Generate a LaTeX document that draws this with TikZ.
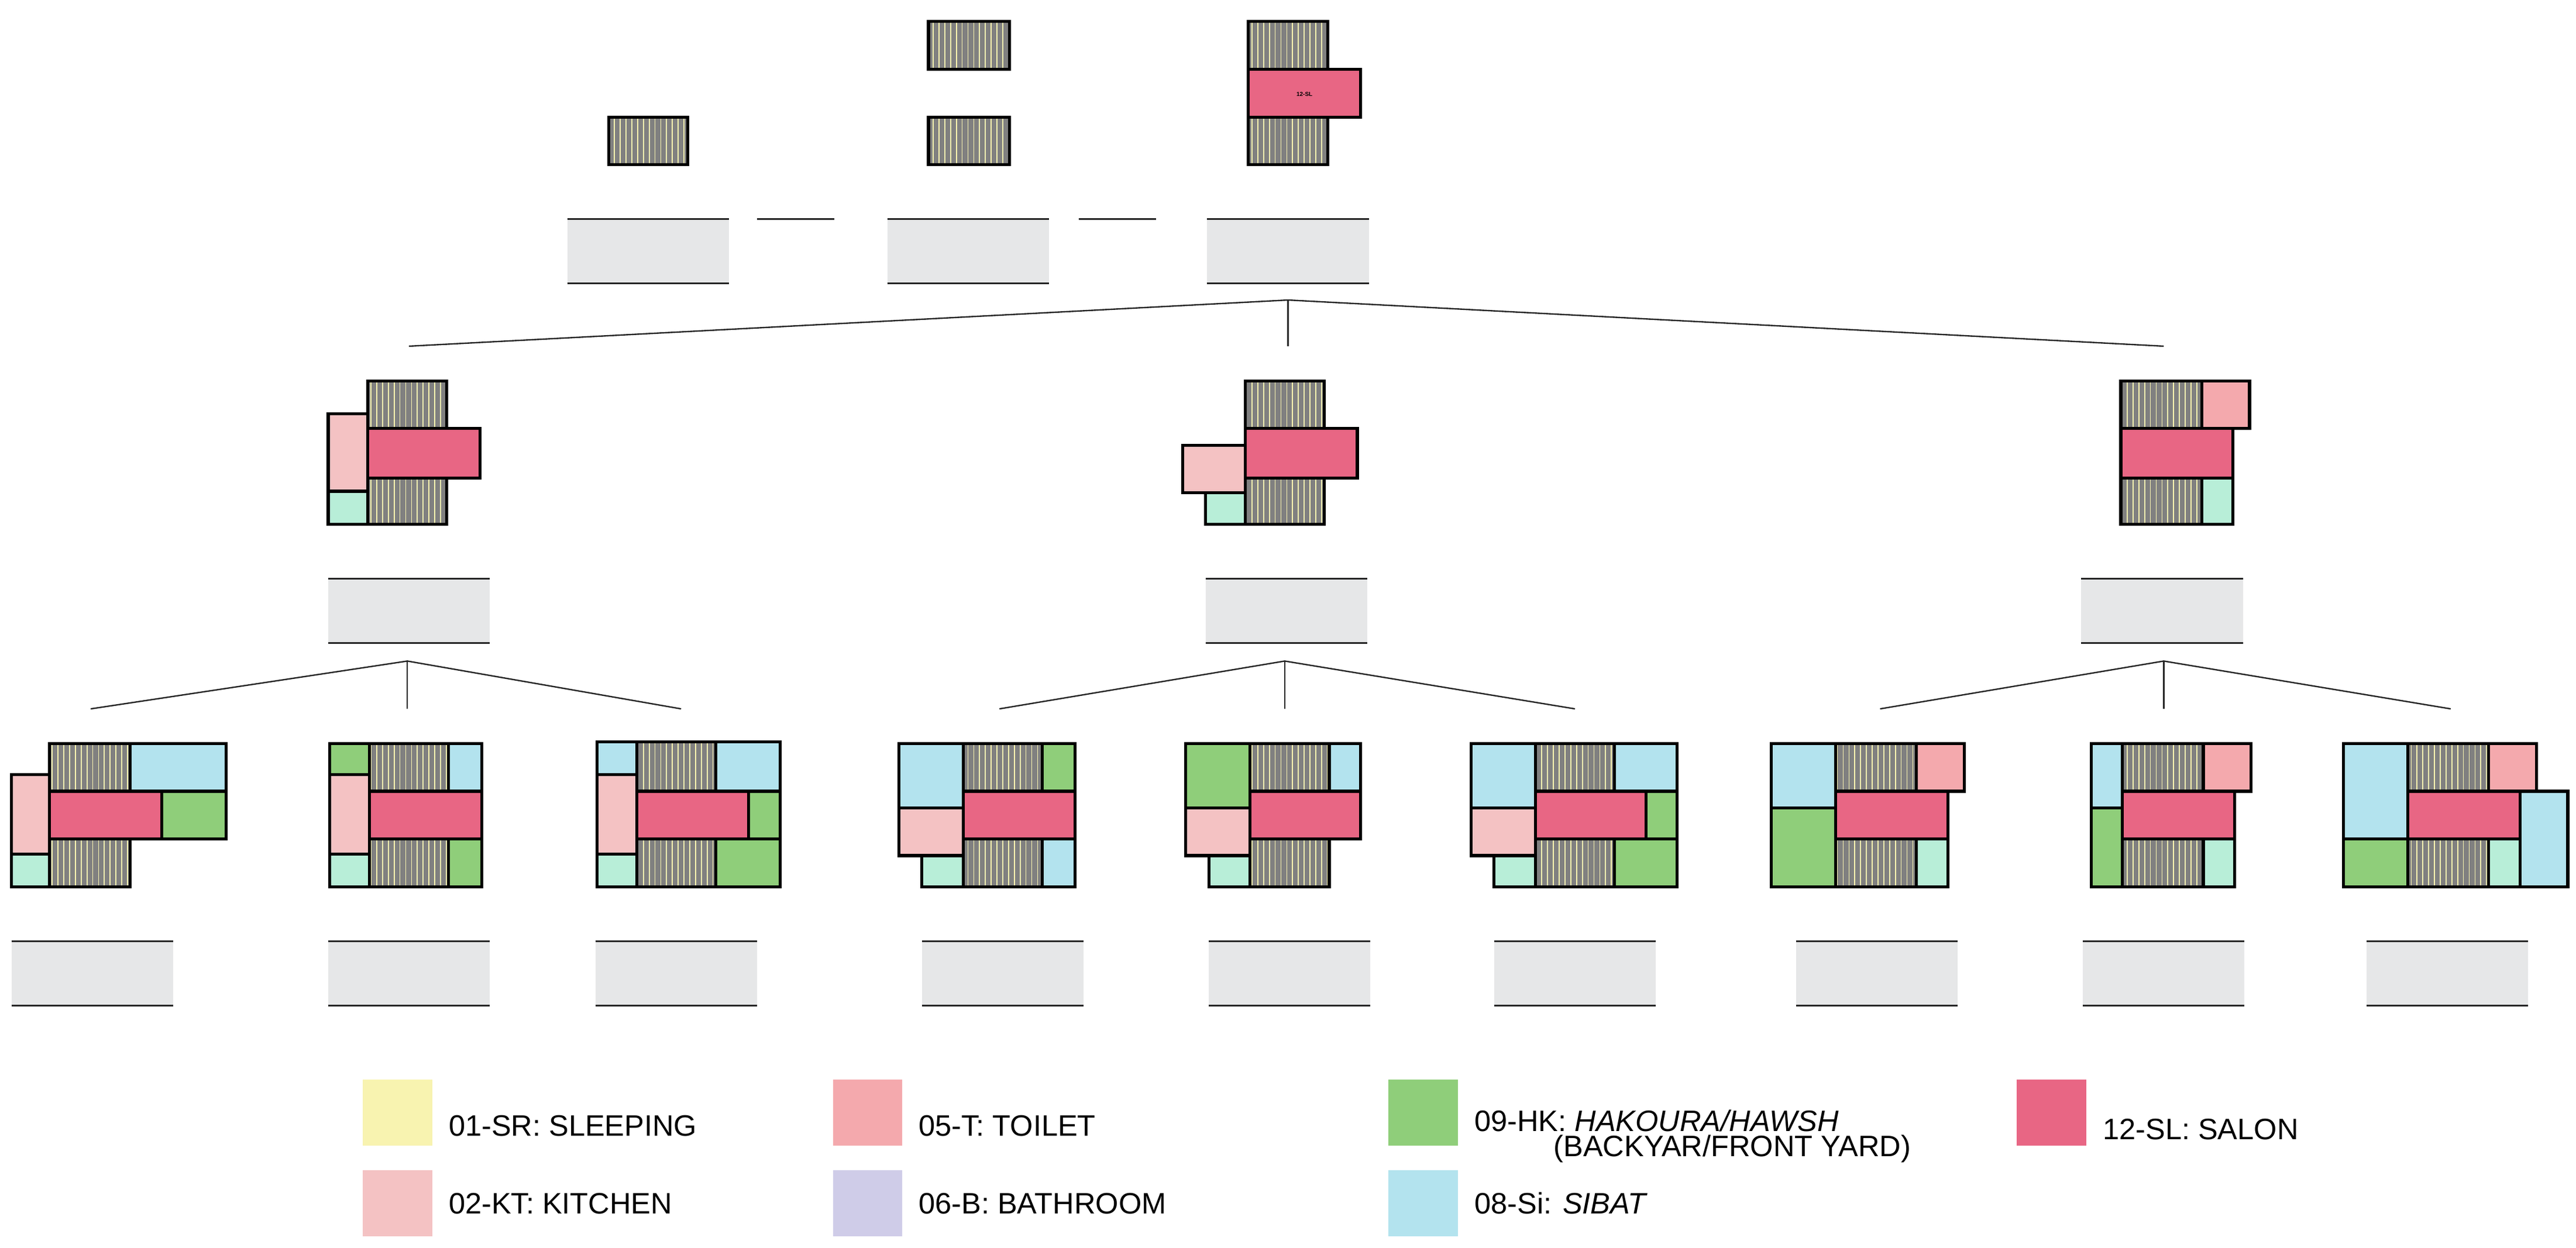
\documentclass[tikz,border=0pt]{standalone}
\usepackage{fontspec}
\setmainfont{Liberation Sans}
\usetikzlibrary{patterns.meta}
\definecolor{cSR}{HTML}{F8F3B0}
\definecolor{cKT}{HTML}{F4C2C3}
\definecolor{cTO}{HTML}{F4A9AD}
\definecolor{cBT}{HTML}{CFCCE8}
\definecolor{cHK}{HTML}{8FCE7A}
\definecolor{cSI}{HTML}{B3E3EE}
\definecolor{cSL}{HTML}{E86684}
\definecolor{cMI}{HTML}{B8EED8}
\definecolor{cLB}{HTML}{E6E7E8}
\definecolor{cST}{HTML}{808080}
\tikzset{
 room/.style={draw=black,line width=2.6pt},
 sr/.style={room,preaction={fill=cST},pattern={Lines[angle=90,distance=5pt,line width=0.9pt]},pattern color=cSR},
 kt/.style={room,fill=cKT}, to/.style={room,fill=cTO}, hk/.style={room,fill=cHK},
 si/.style={room,fill=cSI}, sl/.style={room,fill=cSL}, mi/.style={room,fill=cMI},
 tree/.style={line width=1.2pt,black!85},
 lbl/.style={fill=cLB},
 lblline/.style={line width=1.6pt,black!85},
 leg/.style={anchor=west,font=\fontsize{25.5}{29}\selectfont,inner sep=0pt},
 sw/.style={minimum width=21mm,minimum height=20mm,inner sep=0pt}
}
\newcommand{\rmx}[5]{\draw[#1] (#2,#3) rectangle (#4,#5);}
\newcommand{\lbox}[2]{\fill[lbl] (#1,#2) rectangle ({#1+98},{#2+39});
 \draw[lblline] (#1,#2) -- ({#1+98},#2); \draw[lblline] (#1,{#2+39}) -- ({#1+98},{#2+39});}
\begin{document}
\begin{tikzpicture}[x=0.5mm,y=-0.5mm]
\useasboundingbox (0,0) rectangle (1562,757);
% ---- top row
\rmx{sr}{369}{71}{417}{100}
\rmx{sr}{563}{13}{612}{42}\rmx{sr}{563}{71}{612}{100}
\rmx{sr}{757}{13}{805}{42}\rmx{sr}{757}{71}{805}{100}\rmx{sl}{757}{42}{825}{71}
\node[font=\fontsize{5}{5}\selectfont\bfseries] at (791,57) {12-SL};
\lbox{344}{133}\lbox{538}{133}\lbox{732}{133}
\draw[lblline] (459,133) -- (506,133); \draw[lblline] (654,133) -- (701,133);
% tree 1
\coordinate (t0) at (781,182); \coordinate (t0a) at (248,210); \coordinate (t0b) at (781,210); \coordinate (t0c) at (1312,210);
\draw[tree] (t0a) -- (t0) -- (t0c); \draw[tree] (t0) -- (t0b);
% ---- middle row
\rmx{sr}{223}{231}{271}{260}\rmx{sl}{223}{260}{291}{290}\rmx{sr}{223}{290}{271}{318}
\rmx{kt}{199}{251}{223}{298}\rmx{mi}{199}{298}{223}{318}
\rmx{sr}{755}{231}{803}{260}\rmx{sl}{755}{260}{823}{290}\rmx{sr}{755}{290}{803}{318}
\rmx{kt}{717}{270}{755}{299}\rmx{mi}{731}{299}{755}{318}
\rmx{sr}{1286}{231}{1335}{260}\rmx{to}{1335}{231}{1364}{260}\rmx{sl}{1286}{260}{1354}{290}
\rmx{sr}{1286}{290}{1335}{318}\rmx{mi}{1335}{290}{1354}{318}
\lbox{199}{351}\lbox{731}{351}\lbox{1262}{351}
% trees 2
\coordinate (l0) at (247,401); \coordinate (l1) at (55,430); \coordinate (l2) at (247,430); \coordinate (l3) at (413,430);
\draw[tree] (l1) -- (l0) -- (l3); \draw[tree] (l0) -- (l2);
\coordinate (m0) at (779,401); \coordinate (m1) at (606,430); \coordinate (m2) at (779,430); \coordinate (m3) at (955,430);
\draw[tree] (m1) -- (m0) -- (m3); \draw[tree] (m0) -- (m2);
\coordinate (r0) at (1312,401); \coordinate (r1) at (1140,430); \coordinate (r2) at (1312,430); \coordinate (r3) at (1486,430);
\draw[tree] (r1) -- (r0) -- (r3); \draw[tree] (r0) -- (r2);
% ---- bottom row
% 1
\rmx{si}{79}{451}{137}{480}\rmx{sr}{30}{451}{79}{480}\rmx{kt}{7}{470}{30}{518}\rmx{mi}{7}{518}{30}{538}
\rmx{sl}{30}{480}{98}{509}\rmx{hk}{98}{480}{137}{509}\rmx{sr}{30}{509}{79}{538}
% 2
\rmx{hk}{200}{451}{224}{470}\rmx{kt}{200}{470}{224}{518}\rmx{mi}{200}{518}{224}{538}
\rmx{sr}{224}{451}{272}{480}\rmx{si}{272}{451}{292}{480}\rmx{sl}{224}{480}{292}{509}
\rmx{sr}{224}{509}{272}{538}\rmx{hk}{272}{509}{292}{538}
% 3
\rmx{si}{362}{450}{386}{470}\rmx{kt}{362}{470}{386}{518}\rmx{mi}{362}{518}{386}{538}
\rmx{sr}{386}{450}{434}{480}\rmx{si}{434}{450}{473}{480}\rmx{sl}{386}{480}{454}{509}
\rmx{hk}{454}{480}{473}{509}\rmx{sr}{386}{509}{434}{538}\rmx{hk}{434}{509}{473}{538}
% 4
\rmx{si}{545}{451}{584}{490}\rmx{kt}{545}{490}{584}{519}\rmx{mi}{559}{519}{584}{538}
\rmx{sr}{584}{451}{632}{480}\rmx{hk}{632}{451}{652}{480}\rmx{sl}{584}{480}{652}{509}
\rmx{sr}{584}{509}{632}{538}\rmx{si}{632}{509}{652}{538}
% 5
\rmx{hk}{719}{451}{758}{490}\rmx{kt}{719}{490}{758}{519}\rmx{mi}{733}{519}{758}{538}
\rmx{sr}{758}{451}{806}{480}\rmx{si}{806}{451}{825}{480}\rmx{sl}{758}{480}{825}{509}
\rmx{sr}{758}{509}{806}{538}
% 6
\rmx{si}{892}{451}{931}{490}\rmx{kt}{892}{490}{931}{519}\rmx{mi}{906}{519}{931}{538}
\rmx{sr}{931}{451}{979}{480}\rmx{si}{979}{451}{1017}{480}\rmx{sl}{931}{480}{998}{509}
\rmx{hk}{998}{480}{1017}{509}\rmx{sr}{931}{509}{979}{538}\rmx{hk}{979}{509}{1017}{538}
% 7
\rmx{si}{1074}{451}{1113}{490}\rmx{hk}{1074}{490}{1113}{538}
\rmx{sr}{1113}{451}{1162}{480}\rmx{to}{1162}{451}{1191}{480}\rmx{sl}{1113}{480}{1181}{509}
\rmx{sr}{1113}{509}{1162}{538}\rmx{mi}{1162}{509}{1181}{538}
% 8
\rmx{si}{1268}{451}{1287}{490}\rmx{hk}{1268}{490}{1287}{538}
\rmx{sr}{1287}{451}{1336}{480}\rmx{to}{1336}{451}{1365}{480}\rmx{sl}{1287}{480}{1355}{509}
\rmx{sr}{1287}{509}{1336}{538}\rmx{mi}{1336}{509}{1355}{538}
% 9
\rmx{si}{1421}{451}{1460}{509}\rmx{hk}{1421}{509}{1460}{538}
\rmx{sr}{1460}{451}{1509}{480}\rmx{to}{1509}{451}{1538}{480}\rmx{sl}{1460}{480}{1528}{509}
\rmx{sr}{1460}{509}{1509}{538}\rmx{mi}{1509}{509}{1528}{538}\rmx{si}{1528}{480}{1557}{538}
% labels bottom
\lbox{7}{571}\lbox{199}{571}\lbox{361}{571}\lbox{559}{571}\lbox{733}{571}
\lbox{906}{571}\lbox{1089}{571}\lbox{1263}{571}\lbox{1435}{571}
% ---- legend
\node[sw,fill=cSR] (s1) at (241,675) {}; \node[leg] (t1) at (272,683) {01-SR: SLEEPING};
\node[sw,fill=cKT] (s2) at (241,730) {}; \node[leg] (t2) at (272,730) {02-KT: KITCHEN};
\node[sw,fill=cTO] (s3) at (526,675) {}; \node[leg] (t3) at (557,683) {05-T: TOILET};
\node[sw,fill=cBT] (s4) at (526,730) {}; \node[leg] (t4) at (557,730) {06-B: BATHROOM};
\node[sw,fill=cHK] (s5) at (863,675) {}; \node[leg] (t5) at (894,680) {09-HK: \textit{HAKOURA/HAWSH}};
\node[leg] (t5b) at (942,697) {(BACKYAR/FRONT YARD)};
\node[sw,fill=cSI] (s6) at (863,730) {}; \node[leg] (t6) at (894,730) {08-Si: \textit{SIBAT}};
\node[sw,fill=cSL] (s7) at (1244,675) {}; \node[leg] (t7) at (1275,685) {12-SL: SALON};
\end{tikzpicture}
\end{document}
